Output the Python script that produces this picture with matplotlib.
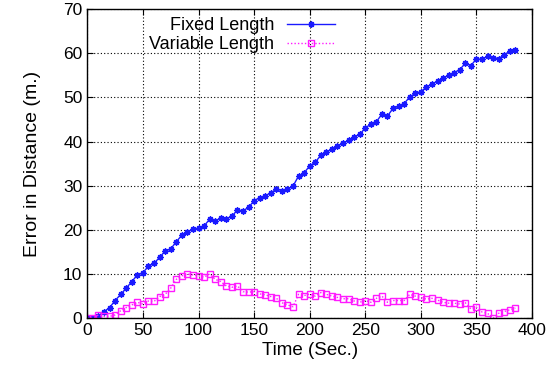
import numpy as np
import matplotlib
matplotlib.use('Agg')
import matplotlib.pyplot as plt

plt.rcParams['font.family'] = ['Liberation Sans', 'DejaVu Sans']

# Time stamps (sec.)
time_sec = [0, 5, 10, 15, 20, 25, 30, 35, 40, 45,
            50, 55, 60, 65, 70, 75, 80, 85, 90, 95,
            100, 105, 110, 115, 120, 125, 130, 135, 140, 145,
            150, 155, 160, 165, 170, 175, 180, 185, 190, 195,
            200, 205, 210, 215, 220, 225, 230, 235, 240, 245,
            250, 255, 260, 265, 270, 275, 280, 285, 290, 295,
            300, 305, 310, 315, 320, 325, 330, 335, 340, 345,
            350, 355, 360, 365, 370, 375, 380, 385]

# Error in distance (m.) for the fixed length method
fixed_len = [0.0, 0.1, 0.5, 1.5, 2.4, 4.0, 5.4, 6.8, 8.3, 9.8,
             10.3, 11.8, 12.4, 13.8, 15.2, 15.7, 17.3, 18.8, 19.6, 20.1,
             20.4, 20.9, 22.4, 22.0, 22.7, 22.5, 23.1, 24.5, 24.3, 25.1,
             26.6, 27.3, 27.7, 28.4, 29.2, 28.9, 29.2, 29.9, 32.2, 32.9,
             34.5, 35.3, 36.9, 37.6, 38.3, 39.0, 39.6, 40.3, 41.1, 41.6,
             43.1, 43.9, 44.5, 46.2, 45.8, 47.5, 48.0, 48.6, 50.1, 50.9,
             51.3, 52.3, 53.0, 53.7, 54.4, 55.0, 55.6, 56.3, 57.7, 57.2,
             58.7, 58.6, 59.3, 59.0, 58.8, 59.6, 60.5, 60.7]

# Error in distance (m.) for the variable length method
var_len = [0.0, 0.0, 0.75, 0.4, 0.4, 0.75, 1.7, 2.4, 3.0, 3.6,
           3.2, 3.9, 3.8, 4.9, 5.4, 6.8, 8.8, 9.6, 10.0, 9.8,
           9.6, 9.3, 10.0, 8.8, 8.3, 7.3, 7.0, 7.3, 6.0, 5.9,
           6.0, 5.5, 5.3, 4.9, 4.5, 3.5, 3.0, 2.6, 5.4, 5.1,
           5.5, 5.0, 5.8, 5.4, 5.0, 4.7, 4.4, 4.4, 3.9, 3.6,
           4.0, 3.6, 4.5, 5.0, 3.6, 4.0, 4.0, 4.0, 5.4, 5.0,
           4.7, 4.3, 4.5, 4.1, 3.6, 3.4, 3.4, 3.2, 3.5, 2.1,
           2.5, 1.4, 1.1, 0.0, 1.1, 1.5, 1.9, 2.3]

fig = plt.figure(figsize=(5.6, 3.77), dpi=100)
ax = fig.add_axes([0.156, 0.156, 0.794, 0.820])

ax.plot(time_sec, fixed_len, color='#1a1aff', lw=1.0, marker=(8, 2, 0),
        ms=4.5, mew=1.0, label='Fixed Length')
ax.plot(time_sec, var_len, color='#ff1aff', lw=1.0, ls=(0, (1, 1.5)),
        marker='s', ms=5, mfc='none', mew=1.0, label='Variable Length')

ax.set_xlim(0, 400)
ax.set_ylim(0, 70)
ax.set_xticks(range(0, 401, 50))
ax.set_yticks(range(0, 71, 10))
ax.grid(True, ls=(0, (1, 2)), color='black', lw=0.8)
ax.tick_params(direction='in', top=True, right=True, labelsize=12.5, length=4)
for s in ax.spines.values():
    s.set_linewidth(1.0)

ax.set_xlabel('Time (Sec.)', fontsize=13.5, labelpad=3)
ax.set_ylabel('Error in Distance (m.)', fontsize=14, labelpad=16)

ax.legend(loc='upper left', bbox_to_anchor=(0.11, 1.015), frameon=False,
          markerfirst=False, fontsize=13, handlelength=2.7,
          labelspacing=0.1, handletextpad=0.7, borderpad=0.2)

plt.savefig('out.png', dpi=100)
